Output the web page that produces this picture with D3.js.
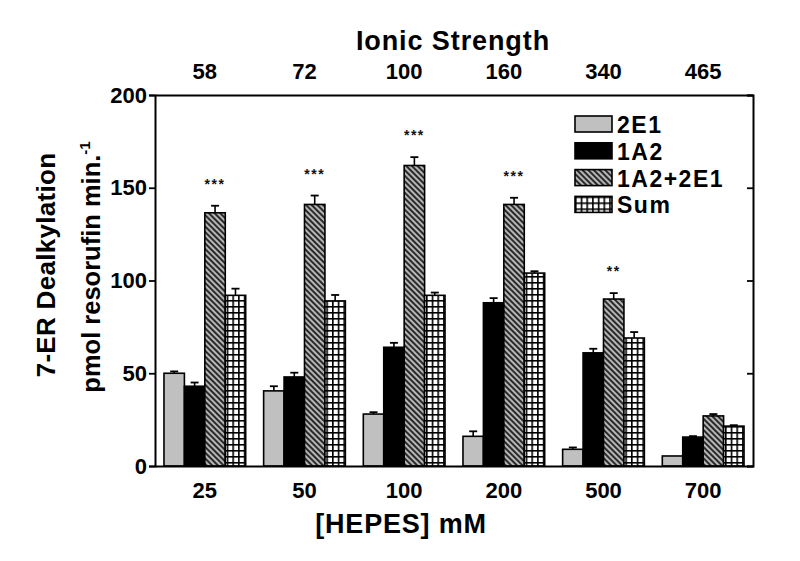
<!DOCTYPE html>
<html>
<head>
<meta charset="utf-8">
<script src="https://cdn.jsdelivr.net/npm/d3@7"></script>
<style>
  body { margin: 0; background: #fff; }
  svg { display: block; font-family: "Liberation Sans", Arial, sans-serif; font-weight: bold; }
</style>
</head>
<body>
<script>
// data
var hepes = ["25", "50", "100", "200", "500", "700"];
var ionic = ["58", "72", "100", "160", "340", "465"];
var series = ["2E1", "1A2", "1A2+2E1", "Sum"];

var v2E1   = [50, 40.5, 28, 16, 9, 5.4];
var e2E1   = [1, 2.5, 1, 2.7, 1, 0];
var v1A2   = [43, 48, 64, 88, 61, 15.6];
var e1A2   = [2, 2.3, 2.4, 2.5, 2.2, 0.5];
var vMix   = [136.5, 141, 162, 141, 90, 27];
var eMix   = [3.8, 4.8, 4.5, 3.6, 3.2, 1];
var vSum   = [92, 89, 92, 104, 69, 21.5];
var eSum   = [3.6, 3.2, 1.5, 1, 3.2, 0.5];
var stars  = ["***", "***", "***", "***", "**", ""];

var values = [v2E1, v1A2, vMix, vSum];
var errors = [e2E1, e1A2, eMix, eSum];

var width = 800, height = 561;
var margin = {left: 155, right: 47, top: 95, bottom: 95};

var svg = d3.select("body").append("svg")
    .attr("width", width)
    .attr("height", height);

var defs = svg.append("defs");

// diagonal hatch for 1A2+2E1
var hatch = defs.append("pattern")
    .attr("id", "hatch")
    .attr("patternUnits", "userSpaceOnUse")
    .attr("width", 4).attr("height", 4)
    .attr("patternTransform", "rotate(-45)");
hatch.append("rect").attr("width", 4).attr("height", 4).attr("fill", "#bdbdbd");
hatch.append("rect").attr("width", 2.1).attr("height", 4).attr("fill", "#2a2a2a");

// grid for Sum
var grid = defs.append("pattern")
    .attr("id", "grid")
    .attr("patternUnits", "userSpaceOnUse")
    .attr("width", 5.7).attr("height", 6);
grid.append("rect").attr("width", 5.7).attr("height", 6).attr("fill", "#000");
grid.append("rect").attr("x", 1.6).attr("y", 1.6).attr("width", 4.1).attr("height", 4.4).attr("fill", "#fff");

var fills = ["#c0c0c0", "#000", "url(#hatch)", "url(#grid)"];

var x = d3.scaleBand()
    .domain(hepes)
    .range([margin.left, width - margin.right])
    .paddingInner(0.18)
    .paddingOuter(0.09);

var xs = d3.scaleBand()
    .domain(series)
    .range([0, x.bandwidth()]);

var y = d3.scaleLinear()
    .domain([0, 200])
    .range([height - margin.bottom, margin.top]);

var plot = svg.append("g");

// bars
var group = plot.selectAll("g.grp")
    .data(hepes)
    .enter().append("g").attr("class", "grp")
    .attr("transform", function(d) { return "translate(" + x(d) + ",0)"; });

series.forEach(function(s, si) {
  group.append("rect")
      .attr("x", xs(s))
      .attr("y", function(d, i) { return y(values[si][i]); })
      .attr("width", xs.bandwidth())
      .attr("height", function(d, i) { return y(0) - y(values[si][i]); })
      .attr("fill", fills[si])
      .attr("stroke", "#000")
      .attr("stroke-width", 1.6);

  // error bars (upper only)
  group.each(function(d, i) {
    var e = errors[si][i];
    if (!e) return;
    var cx = xs(s) + xs.bandwidth() / 2;
    var g = d3.select(this);
    g.append("line")
        .attr("x1", cx).attr("x2", cx)
        .attr("y1", y(values[si][i])).attr("y2", y(values[si][i] + e))
        .attr("stroke", "#000").attr("stroke-width", 1.6);
    g.append("line")
        .attr("x1", cx - 4).attr("x2", cx + 4)
        .attr("y1", y(values[si][i] + e)).attr("y2", y(values[si][i] + e))
        .attr("stroke", "#000").attr("stroke-width", 1.8);
  });
});

// significance stars over the 1A2+2E1 bars
group.append("text")
    .attr("x", xs("1A2+2E1") + xs.bandwidth() / 2)
    .attr("y", function(d, i) { return y(vMix[i] + eMix[i]) - 17; })
    .attr("text-anchor", "middle")
    .attr("font-size", 14)
    .attr("letter-spacing", 1.5)
    .attr("fill", "#111")
    .text(function(d, i) { return stars[i]; });

// axes
var yAxis = d3.axisLeft(y).tickValues([0, 50, 100, 150, 200]).tickSize(6).tickPadding(2);
var yg = svg.append("g")
    .attr("transform", "translate(" + margin.left + ",0)")
    .call(yAxis);
yg.selectAll("text").attr("font-size", 22).attr("fill", "#000");

var yRight = d3.axisRight(y).tickValues([0, 50, 100, 150, 200]).tickSize(-6).tickFormat("");
svg.append("g")
    .attr("transform", "translate(" + (width - margin.right) + ",0)")
    .call(yRight);

var xAxis = d3.axisBottom(x).tickSize(0).tickPadding(16);
var xg = svg.append("g")
    .attr("transform", "translate(0," + y(0) + ")")
    .call(xAxis);
xg.selectAll("text").attr("font-size", 22).attr("fill", "#000");

var xTop = d3.axisTop(x).tickSize(0).tickPadding(16)
    .tickFormat(function(d, i) { return ionic[i]; });
var xtg = svg.append("g")
    .attr("transform", "translate(0," + y(200) + ")")
    .call(xTop);
xtg.selectAll("text").attr("font-size", 22).attr("fill", "#000");

svg.selectAll(".domain").attr("stroke", "#000").attr("stroke-width", 2);
svg.selectAll(".tick line").attr("stroke", "#000").attr("stroke-width", 1.8);

// axis titles
svg.append("text")
    .attr("x", 453)
    .attr("y", 50)
    .attr("text-anchor", "middle")
    .attr("font-size", 27)
    .attr("letter-spacing", 0.9)
    .text("Ionic Strength");

svg.append("text")
    .attr("x", 401)
    .attr("y", 533)
    .attr("text-anchor", "middle")
    .attr("font-size", 27)
    .attr("letter-spacing", 0.8)
    .text("[HEPES] mM");

svg.append("text")
    .attr("transform", "translate(55,265) rotate(-90)")
    .attr("text-anchor", "middle")
    .attr("font-size", 26)
    .attr("letter-spacing", 0.3)
    .text("7-ER Dealkylation");

var t2 = svg.append("text")
    .attr("transform", "translate(100,267) rotate(-90)")
    .attr("text-anchor", "middle")
    .attr("font-size", 25.5);
t2.append("tspan").text("pmol resorufin min.");
t2.append("tspan").attr("dy", -10).attr("font-size", 15).text("-1");

// legend
var legend = svg.append("g").attr("transform", "translate(575,116)");
var li = legend.selectAll("g").data(series).enter().append("g")
    .attr("transform", function(d, i) { return "translate(0," + (i * 26.8) + ")"; });
li.append("rect")
    .attr("width", 37).attr("height", 16)
    .attr("fill", function(d, i) { return fills[i]; })
    .attr("stroke", "#000").attr("stroke-width", 1.6);
li.append("text")
    .attr("x", 42).attr("y", 17)
    .attr("font-size", 23)
    .attr("letter-spacing", 1.5)
    .text(function(d) { return d; });
</script>
</body>
</html>
